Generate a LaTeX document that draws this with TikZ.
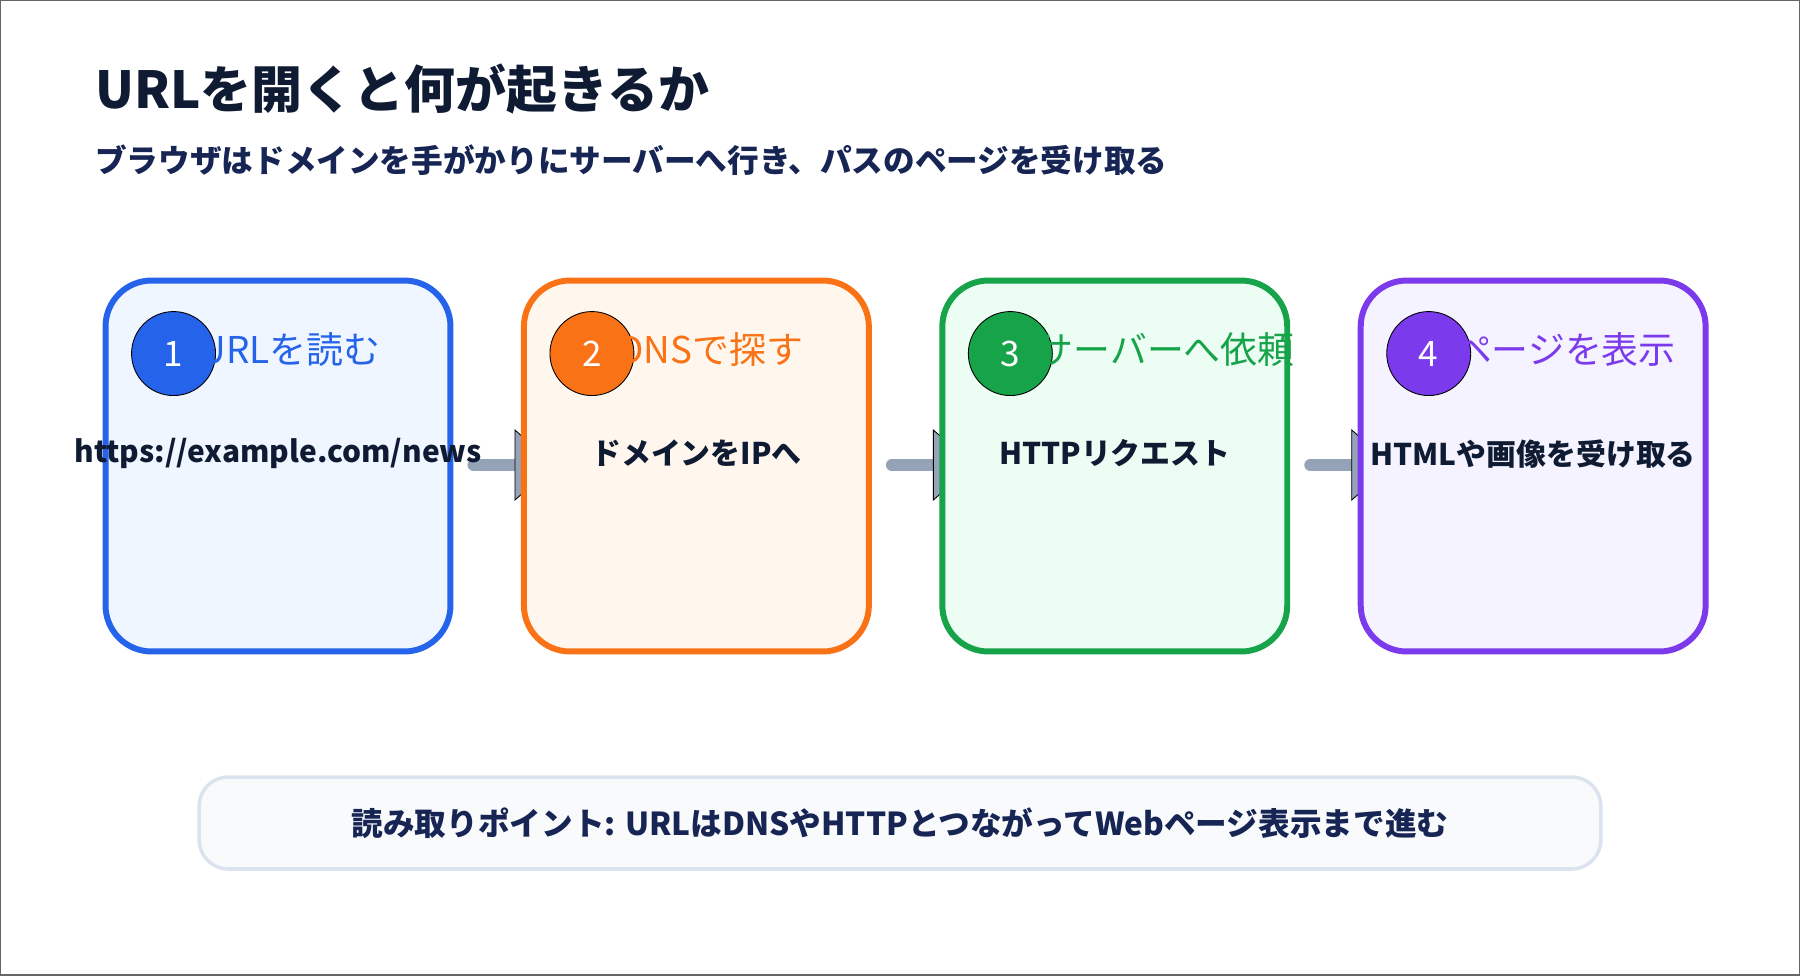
\documentclass[tikz,border=0pt]{standalone}
\usepackage{fontspec}
\setmainfont{Noto Sans CJK JP}
\usetikzlibrary{positioning,backgrounds,calc}
\definecolor{ink}{HTML}{0F1B33}
\definecolor{subink}{HTML}{172554}
\definecolor{cblue}{HTML}{2563EB}
\definecolor{corange}{HTML}{F97316}
\definecolor{cgreen}{HTML}{16A34A}
\definecolor{cpurple}{HTML}{7C3AED}
\definecolor{fblue}{HTML}{EFF6FF}
\definecolor{forange}{HTML}{FFF7ED}
\definecolor{fgreen}{HTML}{ECFDF3}
\definecolor{fpurple}{HTML}{F5F3FF}
\definecolor{flowgray}{HTML}{94A3B8}
\definecolor{noteline}{HTML}{DBE3EE}
\definecolor{notefill}{HTML}{F8FAFC}
\tikzset{
  card/.style={rectangle, rounded corners=0.92cm, minimum width=6.9cm, minimum height=7.42cm, line width=3.4pt, draw=#1},
  badge/.style={circle, minimum size=1.68cm, draw=black, line width=0.5pt, fill=#1, text=white, font=\fontsize{20}{20}\selectfont, inner sep=0pt},
  header/.style={anchor=west, text=#1, font=\fontsize{21}{21}\selectfont, inner sep=0pt},
  body/.style={font=\bfseries\fontsize{17}{17}\selectfont, text=ink, inner sep=0pt},
  flow/.style={line width=6.8pt, draw=flowgray, line cap=round},
  tip/.style={fill=flowgray, draw=black, line width=0.5pt}
}
\begin{document}
\begin{tikzpicture}[x=0.02cm, y=-0.02cm]
\useasboundingbox (0,0) rectangle (1800,975);
\draw[line width=1pt, black!60] (0,0) rectangle (1800,975);

% title
\node[anchor=base west, inner sep=0pt, text=ink, font=\bfseries\fontsize{29}{29}\selectfont] (title) at (95,108) {URLを開くと何が起きるか};
\node[anchor=base west, inner sep=0pt, text=subink, font=\bfseries\fontsize{18}{18}\selectfont] (subtitle) at (95,172) {ブラウザはドメインを手がかりにサーバーへ行き、パスのページを受け取る};

% cards
\node[card=cblue, fill=fblue] (read) at (278,466) {};
\node[card=corange, fill=forange, right=1.35cm of read] (dns) {};
\node[card=cgreen, fill=fgreen, right=1.35cm of dns] (req) {};
\node[card=cpurple, fill=fpurple, right=1.35cm of req] (show) {};

\foreach \c/\col/\n/\head/\txt in {read/cblue/1/URLを読む/{https://example.com/news},
    dns/corange/2/DNSで探す/ドメインをIPへ,
    req/cgreen/3/サーバーへ依頼/HTTPリクエスト,
    show/cpurple/4/ページを表示/HTML{}や画像を受け取る}{
  \node[badge=\col] (\c-num) at ($(\c.north west)+(71,76)$) {\n};
  \node[header=\col] (\c-head) at ($(\c.north west)+(97,72)$) {\head};
  \node[body] (\c-txt) at ($(\c.north)+(0,176)$) {\txt};
}

% connectors
\begin{scope}[on background layer]
\foreach \a/\b in {read/dns, dns/req, req/show}{
  \coordinate (\a-out) at ($(\a.east)+(20,-1)$);
  \coordinate (\b-in) at ($(\b.west)+(-6,-1)$);
  \draw[flow] (\a-out) -- (\b-in);
  \fill[tip] ($(\b-in)+(0,-35)$) -- ($(\b-in)+(40,0)$) -- ($(\b-in)+(0,35)$) -- cycle;
}
\end{scope}

% takeaway
\node[rectangle, rounded corners=0.58cm, minimum width=28.04cm, minimum height=1.84cm, draw=noteline, fill=notefill, line width=2pt,
  font=\bfseries\fontsize{18}{18}\selectfont, text=subink] (note) at (900,823) {読み取りポイント: URLはDNSやHTTPとつながってWebページ表示まで進む};
\end{tikzpicture}
\end{document}
